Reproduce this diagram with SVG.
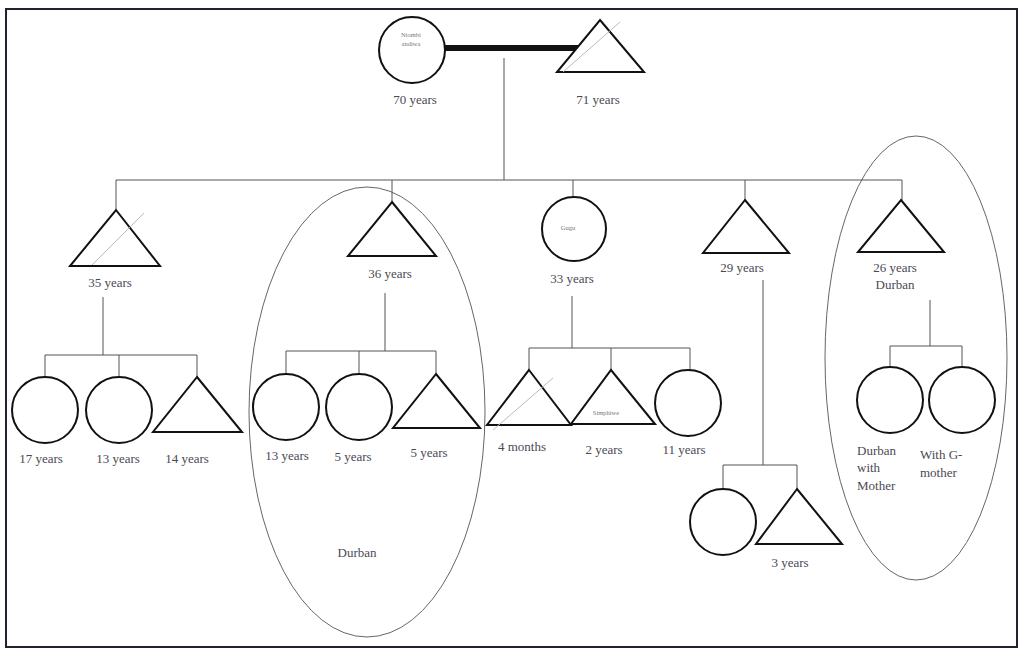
<svg xmlns="http://www.w3.org/2000/svg" width="1021" height="652" viewBox="0 0 1021 652">
<style>
.n{fill:#fff;stroke:#111;stroke-width:2}
.c{fill:none;stroke:#555;stroke-width:1}
.g{fill:none;stroke:#666;stroke-width:1}
.f{fill:none;stroke:#bbb;stroke-width:1}
text{font-family:"Liberation Serif","Times New Roman",serif;font-size:13px;fill:#4a4a55}
.m{text-anchor:middle}
.t{font-size:6.5px;text-anchor:middle;fill:#777}
</style>
<rect x="0" y="0" width="1021" height="652" fill="#fff"/>
<rect x="6" y="9" width="1011" height="638" fill="none" stroke="#223" stroke-width="2"/>
<g id="enclosures">
<ellipse cx="367" cy="412" rx="118" ry="225" class="g"/>
<ellipse cx="916" cy="358" rx="91" ry="222" class="g"/>
</g>
<g id="connectors">
<line x1="445" y1="48" x2="588" y2="48" stroke="#111" stroke-width="6"/>
<polyline class="c" points="504,58 504,180"/>
<polyline class="c" points="116,210 116,180 902,180 902,200"/>
<line class="c" x1="392" y1="180" x2="392" y2="202"/>
<line class="c" x1="573" y1="180" x2="573" y2="197"/>
<line class="c" x1="745" y1="180" x2="745" y2="200"/>
<line class="c" x1="103" y1="297" x2="103" y2="355"/>
<polyline class="c" points="45,377 45,355 197,355 197,377"/>
<line class="c" x1="119" y1="355" x2="119" y2="377"/>
<line class="c" x1="385" y1="293" x2="385" y2="351"/>
<polyline class="c" points="286,374 286,351 436,351 436,374"/>
<line class="c" x1="359" y1="351" x2="359" y2="374"/>
<line class="c" x1="572" y1="296" x2="572" y2="348"/>
<polyline class="c" points="529,370 529,348 690,348 690,370"/>
<line class="c" x1="611" y1="348" x2="611" y2="370"/>
<line class="c" x1="763" y1="280" x2="763" y2="465"/>
<polyline class="c" points="723,489 723,465 797,465 797,489"/>
<line class="c" x1="930" y1="300" x2="930" y2="346"/>
<polyline class="c" points="890,367 890,346 962,346 962,367"/>
</g>
<g id="grandmother">
<circle class="n" cx="412" cy="50" r="33"/>
<text class="t" x="411" y="37">Ntombi</text>
<text class="t" x="411" y="46">andiwa</text>
<text class="m" x="415" y="104">70 years</text>
</g>
<g id="grandfather">
<polygon class="n" points="600,20 644,72 557,72"/>
<line class="f" x1="563" y1="72" x2="620" y2="22"/>
<text class="m" x="598" y="104">71 years</text>
</g>
<g id="son35">
<polygon class="n" points="116,210 160,266 70,266"/>
<line class="f" x1="92" y1="265" x2="144" y2="213"/>
<text class="m" x="110" y="287">35 years</text>
</g>
<g id="son36">
<polygon class="n" points="392,202 436,256 348,256"/>
<text class="m" x="390" y="278">36 years</text>
</g>
<g id="daughter33">
<circle class="n" cx="574" cy="229" r="32"/>
<text class="t" x="568" y="230">Gugu</text>
<text class="m" x="572" y="283">33 years</text>
</g>
<g id="son29">
<polygon class="n" points="745,200 789,253 703,253"/>
<text class="m" x="742" y="272">29 years</text>
</g>
<g id="son26">
<polygon class="n" points="901,200 944,252 858,252"/>
<text class="m" x="895" y="272">26 years</text>
<text class="m" x="895" y="289">Durban</text>
</g>
<g id="g35a">
<circle class="n" cx="45" cy="410" r="33"/>
<text class="m" x="41" y="463">17 years</text>
</g>
<g id="g35b">
<circle class="n" cx="119" cy="410" r="33"/>
<text class="m" x="118" y="463">13 years</text>
</g>
<g id="g35c">
<polygon class="n" points="197,377 242,432 153,432"/>
<text class="m" x="187" y="463">14 years</text>
</g>
<g id="g36a">
<circle class="n" cx="286" cy="407" r="33"/>
<text class="m" x="287" y="460">13 years</text>
</g>
<g id="g36b">
<circle class="n" cx="359" cy="407" r="33"/>
<text class="m" x="353" y="461">5 years</text>
</g>
<g id="g36c">
<polygon class="n" points="436,374 480,428 393,428"/>
<text class="m" x="429" y="457">5 years</text>
</g>
<text class="m" x="357" y="557">Durban</text>
<g id="g33a">
<polygon class="n" points="529,370 571,425 487,425"/>
<line class="f" x1="493" y1="430" x2="553" y2="378"/>
<text class="m" x="522" y="451">4 months</text>
</g>
<g id="g33b">
<polygon class="n" points="611,370 655,424 571,424"/>
<text class="t" x="606" y="415">Simphiwe</text>
<text class="m" x="604" y="454">2 years</text>
</g>
<g id="g33c">
<circle class="n" cx="688" cy="403" r="33"/>
<text class="m" x="684" y="454">11 years</text>
</g>
<g id="g29a">
<circle class="n" cx="723" cy="522" r="33"/>
</g>
<g id="g29b">
<polygon class="n" points="797,489 842,544 756,544"/>
<text class="m" x="790" y="567">3 years</text>
</g>
<g id="g26a">
<circle class="n" cx="890" cy="400" r="33"/>
<text x="857" y="455">Durban</text>
<text x="857" y="472">with</text>
<text x="857" y="490">Mother</text>
</g>
<g id="g26b">
<circle class="n" cx="962" cy="400" r="33"/>
<text x="920" y="459">With G-</text>
<text x="920" y="477">mother</text>
</g>
</svg>
